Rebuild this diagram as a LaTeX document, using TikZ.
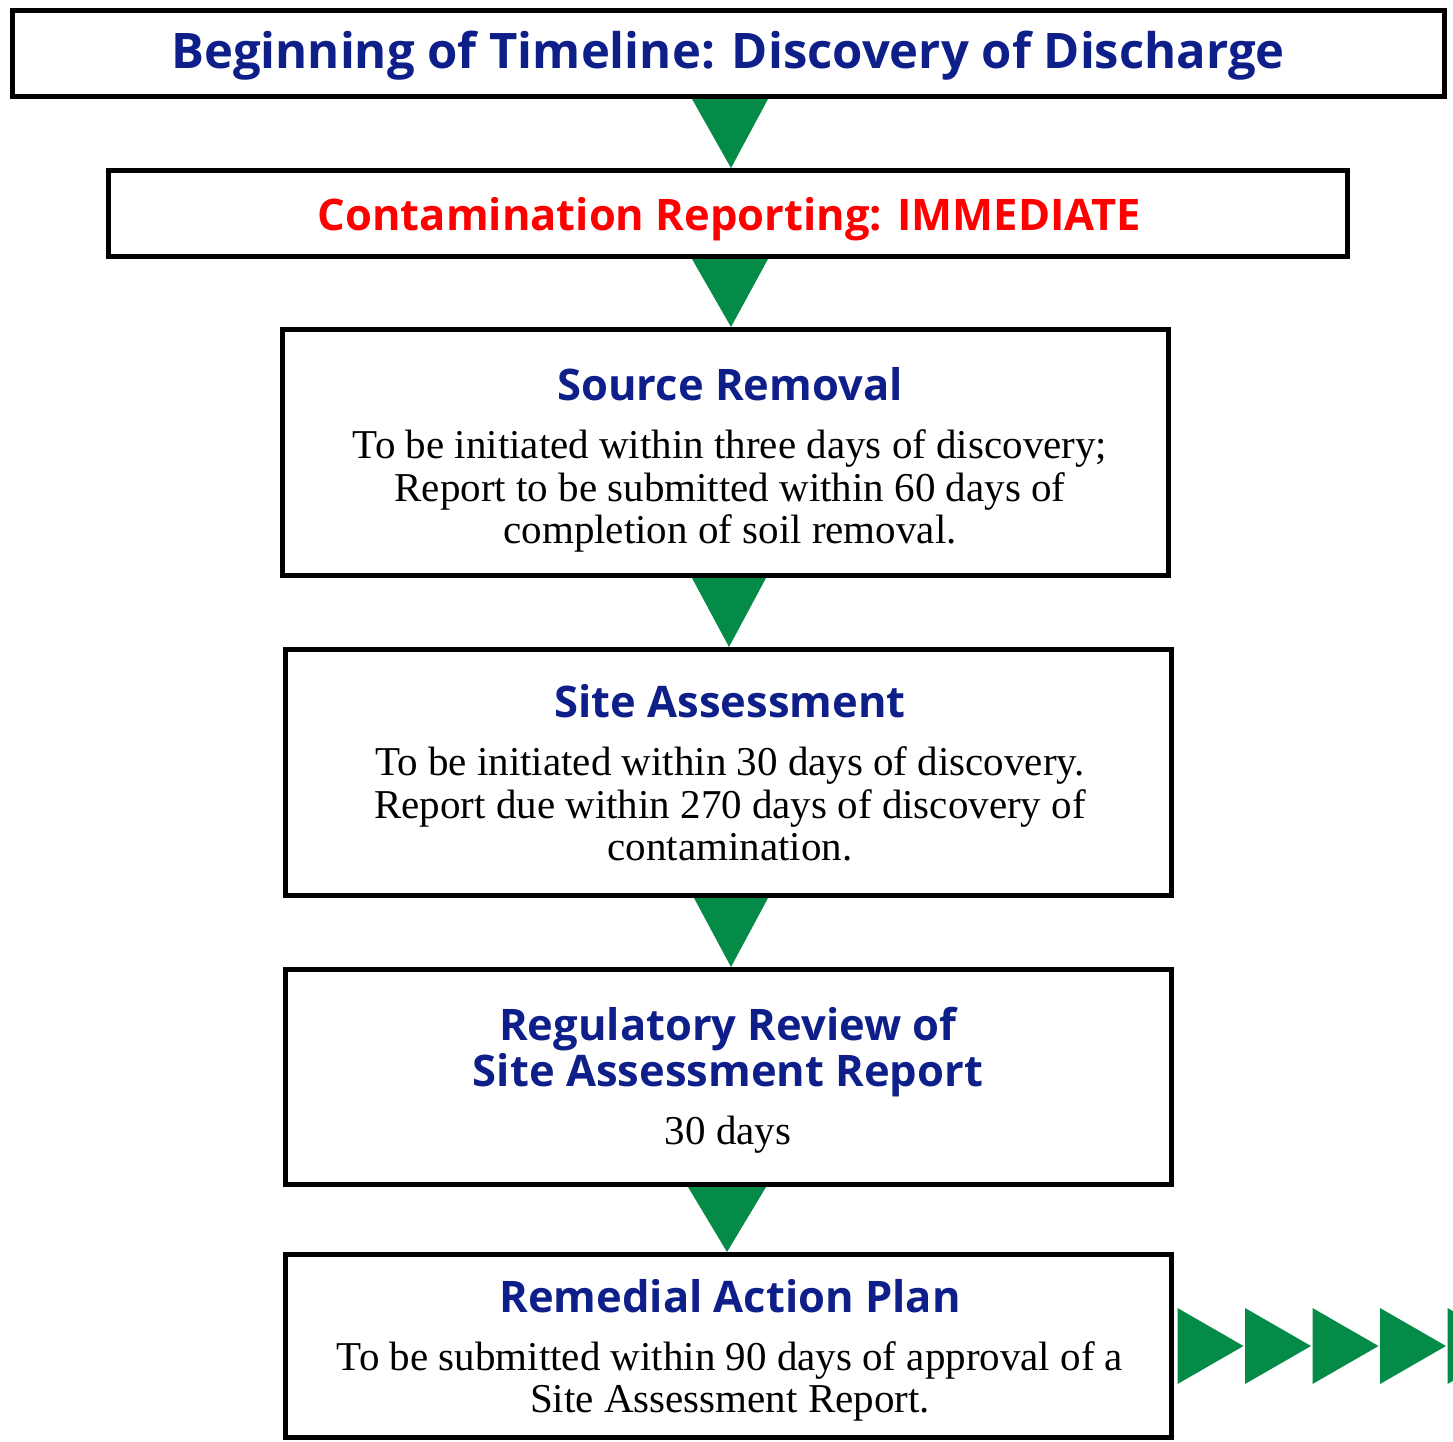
\documentclass[tikz,border=0pt]{standalone}
\usepackage{fontspec}
\setmainfont{Liberation Serif}
\newfontfamily\hfont{Open Sans}[Ligatures=NoCommon]
\usetikzlibrary{calc,backgrounds}
\definecolor{tgreen}{RGB}{4,139,71}
\definecolor{tblue}{RGB}{14,31,138}
\definecolor{tred}{RGB}{255,0,0}
\tikzset{
  box/.style={draw=black, line width=5pt, rectangle, inner sep=0pt, minimum height=#1},
  head/.style={anchor=base, inner sep=0pt, text=tblue, font=\hfont\bfseries\fontsize{43.5}{43.5}\selectfont},
  title/.style={head, font=\hfont\bfseries\fontsize{49}{49}\selectfont},
  body/.style={anchor=base, inner sep=0pt, text=black, font=\fontsize{41}{41}\selectfont},
  tri/.style={fill=tgreen}
}
\begin{document}
\begin{tikzpicture}[x=1pt,y=-1pt]
\useasboundingbox (0,0) rectangle (1453,1442);
\clip (0,0) rectangle (1453,1442);
\node[box=86pt, minimum width=1432pt] (b1) at (728.5,53.5) {};
\node[box=86pt, minimum width=1239pt] (b2) at (728,213.5) {};
\node[box=246pt, minimum width=886pt] (b3) at (725.5,452.5) {};
\node[box=246pt, minimum width=886pt] (b4) at (728.5,772.5) {};
\node[box=215pt, minimum width=886pt] (b5) at (728.5,1077) {};
\node[box=183pt, minimum width=886pt] (b6) at (728.5,1346) {};
% texts
\node[title] (t1) at (728,69) {Beginning of Timeline: Discovery of Discharge};
\node[head, text=tred] (t2) at (729.5,230) {Contamination Reporting: IMMEDIATE};
\node[head] (t3) at (730,400) {Source Removal};
\node[body] (t3a) at (730,458) {To be initiated within three days of discovery;};
\node[body] (t3b) at (730,501) {Report to be submitted within 60 days of};
\node[body] (t3c) at (730,543) {completion of soil removal.};
\node[head] (t4) at (730,717) {Site Assessment};
\node[body] (t4a) at (730,775) {To be initiated within 30 days of discovery.};
\node[body] (t4b) at (730,818) {Report due within 270 days of discovery of};
\node[body] (t4c) at (730,860) {contamination.};
\node[head] (t5) at (728,1040) {Regulatory Review of};
\node[head] (t5b) at (728,1086) {Site Assessment Report};
\node[body] (t5c) at (728,1144) {30 days};
\node[head] (t6) at (730,1312) {Remedial Action Plan};
\node[body] (t6a) at (730,1370) {To be submitted within 90 days of approval of a};
\node[body] (t6b) at (730,1412) {Site Assessment Report.};
% connectors
\begin{pgfonlayer}{background}
\fill[tri] ($(b1.south)+(-36.5,0)$) -- ($(b1.south)+(39.5,0)$) -- ($(b2.north)+(3,0)$) -- cycle;
\fill[tri] ($(b2.south)+(-36,0)$) -- ($(b2.south)+(40,0)$) -- ($(b3.north)+(5.5,0)$) -- cycle;
\fill[tri] ($(b3.south)+(-33.5,0)$) -- ($(b3.south)+(40.5,0)$) -- ($(b4.north)+(0.5,0)$) -- cycle;
\fill[tri] ($(b4.south)+(-34.5,0)$) -- ($(b4.south)+(39.5,0)$) -- ($(b5.north)+(2.5,0)$) -- cycle;
\fill[tri] ($(b5.south)+(-40.5,0)$) -- ($(b5.south)+(37.5,0)$) -- ($(b6.north)+(-1.5,0)$) -- cycle;
\end{pgfonlayer}
\coordinate (r0) at ($(b6.east)+(3.5,0)$);
\foreach \i in {0,1,2,3,4} {
  \fill[tri] ($(r0)+(\i*67.5,-38)$) -- ($(r0)+(\i*67.5+66,0)$) -- ($(r0)+(\i*67.5,38)$) -- cycle;
}
\end{tikzpicture}
\end{document}
